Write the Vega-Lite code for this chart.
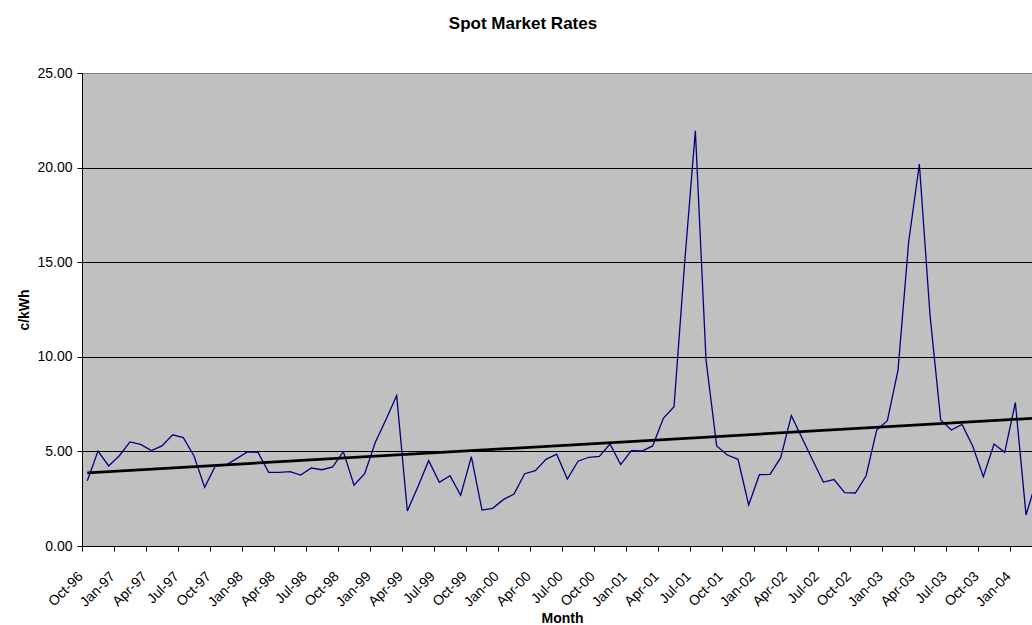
{
  "$schema": "https://vega.github.io/schema/vega-lite/v6.json",
  "width": 950,
  "height": 473,
  "autosize": {"type": "none"},
  "padding": {"left": 82, "top": 73, "right": 0, "bottom": 79},
  "background": "white",
  "title": {
    "text": "Spot Market Rates",
    "font": "Liberation Sans",
    "fontSize": 17,
    "fontWeight": "bold",
    "color": "black",
    "anchor": "middle",
    "dx": -34,
    "baseline": "alphabetic",
    "offset": 20
  },
  "config": {
    "view": {"fill": "#C0C0C0", "stroke": null},
    "axis": {
      "labelFont": "Liberation Sans",
      "labelFontSize": 14,
      "labelColor": "black",
      "titleFont": "Liberation Sans",
      "titleFontSize": 14,
      "titleFontWeight": "bold",
      "titleColor": "black",
      "domainColor": "black",
      "tickColor": "black",
      "tickSize": 5,
      "labelOverlap": false,
      "labelSeparation": 0
    }
  },
  "datasets": {
    "rates": [
      {"i": 0, "month": "Oct-96", "rate": 3.45},
      {"i": 1, "month": "Nov-96", "rate": 5.02},
      {"i": 2, "month": "Dec-96", "rate": 4.23},
      {"i": 3, "month": "Jan-97", "rate": 4.77},
      {"i": 4, "month": "Feb-97", "rate": 5.50},
      {"i": 5, "month": "Mar-97", "rate": 5.37},
      {"i": 6, "month": "Apr-97", "rate": 5.04},
      {"i": 7, "month": "May-97", "rate": 5.29},
      {"i": 8, "month": "Jun-97", "rate": 5.88},
      {"i": 9, "month": "Jul-97", "rate": 5.73},
      {"i": 10, "month": "Aug-97", "rate": 4.76},
      {"i": 11, "month": "Sep-97", "rate": 3.10},
      {"i": 12, "month": "Oct-97", "rate": 4.23},
      {"i": 13, "month": "Nov-97", "rate": 4.28},
      {"i": 14, "month": "Dec-97", "rate": 4.62},
      {"i": 15, "month": "Jan-98", "rate": 4.97},
      {"i": 16, "month": "Feb-98", "rate": 4.95},
      {"i": 17, "month": "Mar-98", "rate": 3.89},
      {"i": 18, "month": "Apr-98", "rate": 3.89},
      {"i": 19, "month": "May-98", "rate": 3.93},
      {"i": 20, "month": "Jun-98", "rate": 3.75},
      {"i": 21, "month": "Jul-98", "rate": 4.12},
      {"i": 22, "month": "Aug-98", "rate": 4.03},
      {"i": 23, "month": "Sep-98", "rate": 4.18},
      {"i": 24, "month": "Oct-98", "rate": 4.99},
      {"i": 25, "month": "Nov-98", "rate": 3.21},
      {"i": 26, "month": "Dec-98", "rate": 3.82},
      {"i": 27, "month": "Jan-99", "rate": 5.48},
      {"i": 28, "month": "Feb-99", "rate": 6.69},
      {"i": 29, "month": "Mar-99", "rate": 7.95},
      {"i": 30, "month": "Apr-99", "rate": 1.85},
      {"i": 31, "month": "May-99", "rate": 3.14},
      {"i": 32, "month": "Jun-99", "rate": 4.51},
      {"i": 33, "month": "Jul-99", "rate": 3.37},
      {"i": 34, "month": "Aug-99", "rate": 3.72},
      {"i": 35, "month": "Sep-99", "rate": 2.68},
      {"i": 36, "month": "Oct-99", "rate": 4.72},
      {"i": 37, "month": "Nov-99", "rate": 1.90},
      {"i": 38, "month": "Dec-99", "rate": 1.99},
      {"i": 39, "month": "Jan-00", "rate": 2.45},
      {"i": 40, "month": "Feb-00", "rate": 2.75},
      {"i": 41, "month": "Mar-00", "rate": 3.82},
      {"i": 42, "month": "Apr-00", "rate": 3.98},
      {"i": 43, "month": "May-00", "rate": 4.58},
      {"i": 44, "month": "Jun-00", "rate": 4.85},
      {"i": 45, "month": "Jul-00", "rate": 3.54},
      {"i": 46, "month": "Aug-00", "rate": 4.48},
      {"i": 47, "month": "Sep-00", "rate": 4.69},
      {"i": 48, "month": "Oct-00", "rate": 4.74},
      {"i": 49, "month": "Nov-00", "rate": 5.39},
      {"i": 50, "month": "Dec-00", "rate": 4.30},
      {"i": 51, "month": "Jan-01", "rate": 5.04},
      {"i": 52, "month": "Feb-01", "rate": 5.02},
      {"i": 53, "month": "Mar-01", "rate": 5.29},
      {"i": 54, "month": "Apr-01", "rate": 6.75},
      {"i": 55, "month": "May-01", "rate": 7.36},
      {"i": 56, "month": "Jun-01", "rate": 15.0},
      {"i": 57, "month": "Jul-01", "rate": 21.95},
      {"i": 58, "month": "Aug-01", "rate": 9.83},
      {"i": 59, "month": "Sep-01", "rate": 5.29},
      {"i": 60, "month": "Oct-01", "rate": 4.81},
      {"i": 61, "month": "Nov-01", "rate": 4.58},
      {"i": 62, "month": "Dec-01", "rate": 2.17},
      {"i": 63, "month": "Jan-02", "rate": 3.77},
      {"i": 64, "month": "Feb-02", "rate": 3.79},
      {"i": 65, "month": "Mar-02", "rate": 4.67},
      {"i": 66, "month": "Apr-02", "rate": 6.89},
      {"i": 67, "month": "May-02", "rate": 5.71},
      {"i": 68, "month": "Jun-02", "rate": 4.53},
      {"i": 69, "month": "Jul-02", "rate": 3.38},
      {"i": 70, "month": "Aug-02", "rate": 3.51},
      {"i": 71, "month": "Sep-02", "rate": 2.82},
      {"i": 72, "month": "Oct-02", "rate": 2.80},
      {"i": 73, "month": "Nov-02", "rate": 3.70},
      {"i": 74, "month": "Dec-02", "rate": 6.13},
      {"i": 75, "month": "Jan-03", "rate": 6.62},
      {"i": 76, "month": "Feb-03", "rate": 9.30},
      {"i": 77, "month": "Mar-03", "rate": 16.08},
      {"i": 78, "month": "Apr-03", "rate": 20.19},
      {"i": 79, "month": "May-03", "rate": 12.2},
      {"i": 80, "month": "Jun-03", "rate": 6.66},
      {"i": 81, "month": "Jul-03", "rate": 6.13},
      {"i": 82, "month": "Aug-03", "rate": 6.43},
      {"i": 83, "month": "Sep-03", "rate": 5.29},
      {"i": 84, "month": "Oct-03", "rate": 3.66},
      {"i": 85, "month": "Nov-03", "rate": 5.39},
      {"i": 86, "month": "Dec-03", "rate": 4.95},
      {"i": 87, "month": "Jan-04", "rate": 7.58},
      {"i": 88, "month": "Feb-04", "rate": 1.64},
      {"i": 89, "month": "Mar-04", "rate": 3.5}
    ],
    "trend": [
      {"i": 0, "trend": 3.87},
      {"i": 89, "trend": 6.76}
    ]
  },
  "layer": [
    {
      "data": {"name": "rates"},
      "mark": {"type": "line", "color": "#000080", "strokeWidth": 1.3, "clip": true},
      "encoding": {
        "x": {
          "field": "i",
          "type": "quantitative",
          "scale": {"domain": [-0.5, 88.56], "nice": false, "zero": false},
          "axis": {
            "title": "Month",
            "titleX": 480,
            "titleY": 76,
            "titleBaseline": "alphabetic",
            "grid": false,
            "tickCount": 60,
            "values": [-0.5, 2.5, 5.5, 8.5, 11.5, 14.5, 17.5, 20.5, 23.5, 26.5, 29.5, 32.5, 35.5, 38.5, 41.5, 44.5, 47.5, 50.5, 53.5, 56.5, 59.5, 62.5, 65.5, 68.5, 71.5, 74.5, 77.5, 80.5, 83.5, 86.5],
            "labelExpr": "['Oct','Jan','Apr','Jul'][round((datum.value+0.5)/3)%4] + '-' + (((96+floor((datum.value+9.5)/12))%100) < 10 ? '0' : '') + ((96+floor((datum.value+9.5)/12))%100)",
            "labelAngle": -45,
            "labelAlign": "right",
            "labelBaseline": "middle",
            "labelOffset": -1.5,
            "labelPadding": 23,
            "labelOverlap": false,
            "labelSeparation": 0,
            "labelFlush": false,
            "labelBound": false
          }
        },
        "y": {
          "field": "rate",
          "type": "quantitative",
          "scale": {"domain": [0, 25], "nice": false},
          "axis": {
            "title": "c/kWh",
            "titleX": -54,
            "titleY": 236.5,
            "titleAngle": -90,
            "titleBaseline": "alphabetic",
            "values": [0, 5, 10, 15, 20, 25],
            "format": ".2f",
            "grid": true,
            "gridColor": {"condition": {"test": "datum.value === 25", "value": "#808080"}, "value": "black"},
            "gridOpacity": 1,
            "gridWidth": 1,
            "labelPadding": 5,
            "labelFlush": false,
            "labelBound": false
          }
        }
      }
    },
    {
      "data": {"name": "trend"},
      "mark": {"type": "line", "color": "black", "strokeWidth": 2.8, "clip": true},
      "encoding": {
        "x": {"field": "i", "type": "quantitative"},
        "y": {"field": "trend", "type": "quantitative"}
      }
    }
  ]
}
